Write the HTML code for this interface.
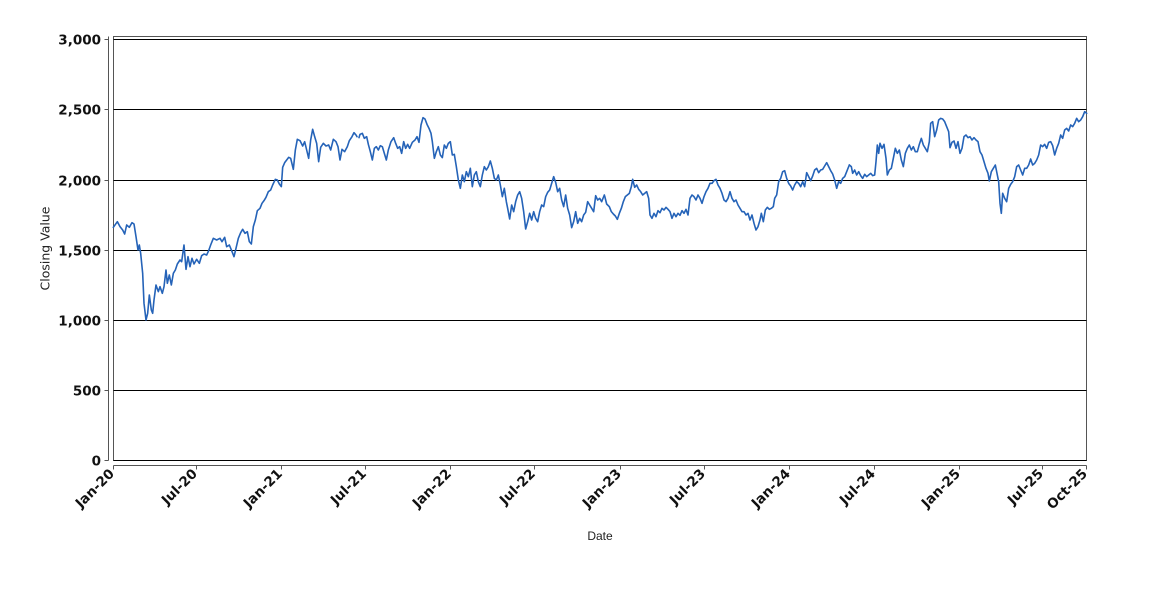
<!DOCTYPE html>
<html>
<head>
<meta charset="utf-8">
<style>
  html, body { margin: 0; padding: 0; background: #ffffff; }
  body { width: 1150px; height: 600px; overflow: hidden; }
  svg { display: block; }
  .tick { font-family: "DejaVu Sans", "Liberation Sans", sans-serif; font-weight: bold; font-size: 13.5px; fill: #111; }
</style>
</head>
<body>
<svg width="1150" height="600" viewBox="0 0 1150 600" xmlns="http://www.w3.org/2000/svg">
  <rect x="0" y="0" width="1150" height="600" fill="#ffffff"/>

  <!-- plot background -->
  <rect x="113.5" y="36.5" width="973" height="424" fill="#ffffff" stroke="#555" stroke-width="1"/>

  <!-- gridlines -->
  <g stroke="#000" stroke-width="1">
    <line x1="113.5" y1="39.5" x2="1086.5" y2="39.5"/>
    <line x1="113.5" y1="109.5" x2="1086.5" y2="109.5"/>
    <line x1="113.5" y1="180.5" x2="1086.5" y2="180.5"/>
    <line x1="113.5" y1="250.5" x2="1086.5" y2="250.5"/>
    <line x1="113.5" y1="320.5" x2="1086.5" y2="320.5"/>
    <line x1="113.5" y1="390.5" x2="1086.5" y2="390.5"/>
    <line x1="113.5" y1="460.5" x2="1086.5" y2="460.5"/>
  </g>

  <!-- axes -->
  <g stroke="#555" stroke-width="1">
    <line x1="108.5" y1="36.5" x2="108.5" y2="460.5"/>
    <line x1="113.5" y1="465.5" x2="1086.5" y2="465.5"/>
    <!-- y ticks -->
    <line x1="104.5" y1="39.5" x2="108.5" y2="39.5"/>
    <line x1="104.5" y1="109.5" x2="108.5" y2="109.5"/>
    <line x1="104.5" y1="180.5" x2="108.5" y2="180.5"/>
    <line x1="104.5" y1="250.5" x2="108.5" y2="250.5"/>
    <line x1="104.5" y1="320.5" x2="108.5" y2="320.5"/>
    <line x1="104.5" y1="390.5" x2="108.5" y2="390.5"/>
    <line x1="104.5" y1="460.5" x2="108.5" y2="460.5"/>
    <!-- x ticks -->
    <line x1="113.5" y1="465.5" x2="113.5" y2="469.5"/>
    <line x1="196.5" y1="465.5" x2="196.5" y2="469.5"/>
    <line x1="281.5" y1="465.5" x2="281.5" y2="469.5"/>
    <line x1="365.5" y1="465.5" x2="365.5" y2="469.5"/>
    <line x1="450.5" y1="465.5" x2="450.5" y2="469.5"/>
    <line x1="534.5" y1="465.5" x2="534.5" y2="469.5"/>
    <line x1="620.5" y1="465.5" x2="620.5" y2="469.5"/>
    <line x1="704.5" y1="465.5" x2="704.5" y2="469.5"/>
    <line x1="789.5" y1="465.5" x2="789.5" y2="469.5"/>
    <line x1="874.5" y1="465.5" x2="874.5" y2="469.5"/>
    <line x1="959.5" y1="465.5" x2="959.5" y2="469.5"/>
    <line x1="1042.5" y1="465.5" x2="1042.5" y2="469.5"/>
    <line x1="1086.5" y1="465.5" x2="1086.5" y2="469.5"/>
  </g>

  <!-- y tick labels -->
  <g class="tick" text-anchor="end">
    <text x="101" y="44.3">3,000</text>
    <text x="101" y="114.3">2,500</text>
    <text x="101" y="185.3">2,000</text>
    <text x="101" y="255.3">1,500</text>
    <text x="101" y="325.3">1,000</text>
    <text x="101" y="395.3">500</text>
    <text x="101" y="465.3">0</text>
  </g>

  <!-- x tick labels -->
  <g class="tick" text-anchor="end">
    <text transform="translate(115,474.5) rotate(-45)">Jan-20</text>
    <text transform="translate(198,474.5) rotate(-45)">Jul-20</text>
    <text transform="translate(283,474.5) rotate(-45)">Jan-21</text>
    <text transform="translate(367,474.5) rotate(-45)">Jul-21</text>
    <text transform="translate(452,474.5) rotate(-45)">Jan-22</text>
    <text transform="translate(536,474.5) rotate(-45)">Jul-22</text>
    <text transform="translate(622,474.5) rotate(-45)">Jan-23</text>
    <text transform="translate(706,474.5) rotate(-45)">Jul-23</text>
    <text transform="translate(791,474.5) rotate(-45)">Jan-24</text>
    <text transform="translate(876,474.5) rotate(-45)">Jul-24</text>
    <text transform="translate(961,474.5) rotate(-45)">Jan-25</text>
    <text transform="translate(1044,474.5) rotate(-45)">Jul-25</text>
    <text transform="translate(1088,474.5) rotate(-45)">Oct-25</text>
  </g>

  <!-- axis titles -->
  <text transform="translate(49.5,248.5) rotate(-90)" text-anchor="middle" font-family="'DejaVu Sans', 'Liberation Sans', sans-serif" font-size="12.5" fill="#222">Closing Value</text>
  <text x="600" y="540" text-anchor="middle" font-family="'Liberation Sans', Arial, sans-serif" font-size="12" fill="#222">Date</text>

  <!-- series -->
  <g fill="none" stroke="#2563b8" stroke-width="1.6" stroke-linejoin="round" stroke-linecap="round">
    <g transform="translate(110,110) scale(0.33333)">
      <polyline vector-effect="non-scaling-stroke" points="10,352 22,335 30,350 38,360 44,372 50,345 58,352 66,338 72,342 78,380 84,420 88,405 92,430 98,490 102,580 108,630 113,610 118,555 124,600 128,610 132,570 138,525 145,545 150,530 157,550 162,530 168,480 172,520 178,495 184,525 190,490 196,480 202,462 210,450 215,455 222,405 228,478 234,440 240,470 246,445 252,462 260,448 268,460 275,437 282,432 290,435 296,422 302,405 310,385 320,390 330,385 336,395 344,382 350,410 358,405 365,422 372,440 378,415 385,385 392,368 398,358 405,370 412,365 418,395 424,402 430,350 436,330 442,302 450,295 456,280 462,272 468,262 475,245 482,240 488,225 496,208 502,210 508,222 514,230 518,172 524,158 530,150 536,142 542,145 550,178 556,120 562,88 570,92 578,108 584,95 590,120 596,145 602,90 608,58 614,80 620,100 626,155 632,112 640,100 648,108 656,105 662,120 670,88 678,95 684,110 690,150 696,118 704,125 712,110 718,92 726,80 732,68 738,75 741,80"/>
    </g>
    <g transform="translate(355,105) scale(0.33333)">
      <polyline vector-effect="non-scaling-stroke" points="12,98 15,88 22,85 28,100 35,95 40,118 46,140 52,165 58,130 64,125 70,135 76,122 82,125 88,145 94,165 100,135 108,110 116,98 122,115 128,130 134,125 140,145 146,110 152,130 158,118 164,130 172,112 180,105 186,95 192,112 198,60 204,38 210,42 216,58 222,70 228,85 232,110 238,160 244,140 250,125 256,150 262,158 268,120 274,130 280,115 286,110 292,150 298,148 304,185 310,225 316,250 322,210 328,230 334,200 340,215 346,190 352,245 358,210 364,200 370,230 376,245 382,210 388,185 394,195 400,185 406,168 412,190 418,220 424,225 430,210 436,240 442,275 448,250 454,290 458,310 464,342 470,300 476,320 482,290 488,270 494,260 500,280 506,320 512,372 518,350 524,325 530,345 536,320 542,340 548,350 554,320 560,300 566,305 572,275 578,262 584,255 590,235 596,215 602,232 608,260 614,250 620,285 626,305 632,270 638,310 644,330 650,368 656,350 662,320 668,355 674,340 680,350 686,330 692,322 698,290 704,300 710,310 716,320 722,272 728,285 734,280 740,290 748,270"/>
    </g>
    <g transform="translate(600,150) scale(0.33333)">
      <polyline vector-effect="non-scaling-stroke" points="14,138 20,162 28,170 34,185 40,192 46,198 52,208 58,190 64,175 70,155 76,140 82,135 88,130 94,110 98,88 104,112 110,105 116,118 122,125 128,135 134,130 140,125 146,145 150,195 156,205 162,190 168,200 174,182 180,188 186,175 192,180 198,172 204,178 210,185 216,205 222,190 228,200 234,190 240,196 246,182 252,190 258,178 264,195 270,145 276,135 282,140 288,150 294,135 300,145 306,160 312,140 318,125 324,115 330,100 336,100 342,92 348,88 354,105 360,115 366,130 372,150 378,155 384,145 390,125 396,145 402,155 408,150 414,165 420,175 426,185 432,185 438,195 444,190 450,210 456,195 462,220 468,240 474,230 480,210 484,190 490,215 496,180 502,172 508,178 514,175 520,170 524,145 530,135 536,95 542,85 548,65 554,62 560,85 566,100 572,108 578,120 584,105 590,95 596,100 602,110 608,95 614,110 620,68 626,80 632,92 638,78 644,60 650,55 656,68 662,60 668,58 674,48 680,38 686,50 692,62 698,72 704,90 710,115 716,95 722,100 728,85 734,80 740,65 748,45"/>
    </g>
    <g transform="translate(840,105) scale(0.33333)">
      <polyline vector-effect="non-scaling-stroke" points="28,180 34,185 38,205 44,195 50,210 56,200 62,212 68,220 74,208 80,215 86,210 92,205 98,212 104,210 108,170 112,120 116,145 120,115 126,130 132,118 138,160 142,210 148,195 154,190 160,160 166,130 172,145 178,135 184,165 190,185 196,145 202,130 208,120 214,135 220,125 226,140 232,140 238,118 244,100 250,120 256,130 262,140 268,110 272,55 278,50 284,95 290,75 296,45 302,40 308,42 314,50 320,65 326,80 330,128 336,112 342,108 348,130 354,110 360,145 366,130 372,95 378,90 384,98 390,95 396,105 402,98 408,105 414,110 420,140 426,150 432,170 438,190 444,205 448,228 454,200 460,190 466,180 472,210 476,230 480,295 484,325 488,265 494,280 500,290 506,250 512,238 518,230 524,215 530,185 536,180 542,195 548,210 554,190 560,190 566,180 572,162 578,180 584,175 590,165 596,150 602,120 608,125 614,118 620,130 626,112 632,110 638,122 644,150 650,130 656,115 662,90 668,100 674,75 680,70 686,78 692,60 698,65 704,55 710,40 716,50 722,45 728,35 734,20 740,25"/>
    </g>
  </g>
</svg>
</body>
</html>
